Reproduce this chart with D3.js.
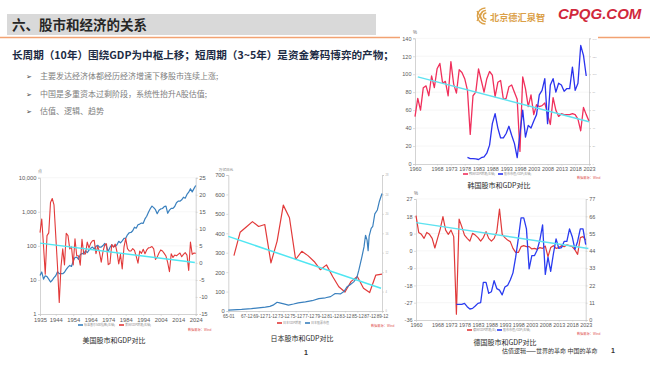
<!DOCTYPE html>
<html><head><meta charset="utf-8">
<script src="https://cdn.jsdelivr.net/npm/d3@7"></script>
<style>
html,body{margin:0;padding:0;background:#fff;}
svg{display:block;}
</style></head><body>
<svg id="c" width="650" height="366"></svg>
<script>
// ---------------- DATA ----------------
// US: S&P 500 (left, log) and GDP growth % (right)
const usStartYear = 1935;
const usIndex = [13.43,17.18,10.55,13.21,12.49,10.58,8.69,9.77,11.67,13.28,17.36,15.30,15.30,15.20,16.76,20.41,23.77,26.57,24.81,35.98,45.48,46.67,39.99,55.21,59.89,58.11,71.55,63.10,75.02,84.75,92.43,80.33,96.47,103.86,92.06,92.15,102.09,118.05,97.55,68.56,90.19,107.46,95.10,96.11,107.94,135.76,122.55,140.64,164.93,167.24,211.28,242.17,247.08,277.72,353.40,330.22,417.09,435.71,466.45,459.27,615.93,740.74,970.43,1229.23,1469.25,1320.28,1148.08,879.82,1111.92,1211.92,1248.29,1418.30,1468.36,903.25,1115.10,1257.64,1257.60,1426.19,1848.36,2058.90,2043.94,2238.83,2673.61,2506.85,3230.78,3756.07,4766.18,3839.50,4769.83,5881.63];
const usGDP = [8.9,12.9,5.1,-3.3,8.0,8.8,17.7,18.9,17.0,8.0,-1.0,-11.6,-1.1,4.1,-0.6,8.7,8.0,4.1,4.7,-0.6,7.1,2.1,2.1,-0.7,6.9,2.6,2.6,6.1,4.4,5.8,6.5,6.6,2.7,4.9,3.1,0.2,3.3,5.3,5.6,-0.5,-0.2,5.4,4.6,5.5,3.2,-0.3,2.5,-1.8,4.6,7.2,4.2,3.5,3.5,4.2,3.7,1.9,-0.1,3.5,2.8,4.0,2.7,3.8,4.4,4.5,4.8,4.1,1.0,1.7,2.9,3.8,3.5,2.8,2.0,0.1,-2.6,2.7,1.6,2.3,2.1,2.5,2.9,1.8,2.5,3.0,2.3,-2.2,6.1,2.5,2.9,2.8];
const usTrend = [[1935, 5.8], [2023.5, 0.1]];
const usXTicks = [1935,1944,1954,1964,1974,1984,1994,2004,2014,2024];
const usLeftTicks = [1,10,100,1000,10000];
const usRightTicks = [-15,-10,-5,0,5,10,15,20,25];

// Japan: market value (left, 万亿日元), nominal GDP growth % (right)
const jpMktDates = ["1965-01","1967-03","1968-10","1969-12","1971-01","1971-10","1972-04","1972-12","1973-05","1974-03","1974-10","1975-08","1976-05","1977-07","1978-08","1979-09","1980-10","1981-08","1982-05","1983-03","1983-10","1984-04","1984-10","1985-05","1985-11","1986-03","1986-06","1986-09","1987-01","1987-04","1987-07","1987-09","1987-11","1988-03","1988-06","1988-10","1989-03","1989-07","1989-12"];
const jpMktValues = [5,8,12,16,20,24,30,45,42,35,30,36,42,47,53,64,68,74,90,88,100,125,135,150,172,210,245,280,330,390,365,310,385,425,435,500,520,565,605];
const jpGdpStartYear = 1965;
const jpGDP = [11.4,16.2,17.3,18.4,17.4,17.8,9.9,14.4,21.8,19.2,10.6,12.3,11.4,10.2,8.5,9.5,7.1,5.0,3.9,6.1,7.1,4.7,3.8,7.4,7.6];
const jpTrend = [["1965-01", 384], ["1989-10", 117]];
const jpXTickDates = ["1965-01","1967-12","1969-12","1971-12","1973-12","1975-12","1977-12","1979-12","1981-12","1983-12","1985-12","1987-12","1989-12"];
const jpXTickLabels = ["65-01","67-12","69-12","71-12","73-12","75-12","77-12","79-12","81-12","83-12","85-12","87-12","89-12"];
const jpLeftTicks = [0,100,200,300,400,500,600,700];
const jpRightTicks = [0,4,8,12,16,20,24,28];

// Korea: red (left %), blue (right)
const krStartYear = 1960;
const krRed = [52.7,73,60,85,87,76,98,85,106,112,90,92,76,114,89,79,105,102,95,82,33,76,80,106,93,80,95,103,99,75,91,93,72,73,86,88,80,72,14,97,84,64,77,55,66,64,65,68,55,44,74,60,53,56,55,55,55,56,55,50,37,63,55,48];
const krBlueStartYear = 1979;
const krBlue = [7.4,6,6,5.6,5,7,8,12,21,45,56,40,29,29,34,42,32,23,7,34,60,30,43,40,48,55,77,82,95,45,88,95,80,90,88,81,84,84,108,82,90,132,121,98];
const krTrend = [[1961, 97], [2023, 47]];
const krXTicks = [1960,1968,1973,1978,1983,1988,1993,1998,2003,2008,2013,2018,2023];
const krLeftTicks = [0,20,40,60,80,100,120,140];

// Germany: red (left %), blue (right)
const deStartYear = 1960;
const deRed = [18.3,9.6,8.6,6.5,9.6,8.6,6.5,1.5,6.5,11.4,17.8,10.8,8.6,10.8,7.4,-33,16.5,12.6,8.2,6.5,5.1,9.1,8.2,6.9,5.1,6.9,10.0,6.5,5.1,6.5,10.0,21.8,8.6,6.9,5.6,4.8,1.3,-0.8,-0.8,2.2,2.7,2.2,2.2,1.0,1.3,0.8,1.7,1.3,2.5,-3.0,1.7,2.7,1.3,1.7,2.7,2.2,3.1,2.7,2.2,0.5,-1.8,6.9,7.4,5.6];
const deBlueStartYear = 1975;
const deBlue = [10,10,10,10.6,8.5,7,7.4,8.9,10.6,11,24,24,17,18,25,20,19,16,21,22,25.5,30,40,52,65,65,58,32.5,41,41,44.6,51,60.5,29,40,31,42,51.6,45.6,46,50,50,58,53,45,50,58,58,48];
const deTrend = [[1960, 14.7], [2024, 1.2]];
const deLeftTicks = [-36,-27,-18,-9,0,9,18,27];
const deRightTicks = [0,11,22,33,44,55,66,77];

// ---------------- DRAW ----------------
const svg = d3.select("#c");
const CN = '"Noto Sans CJK SC","Noto Sans",sans-serif';
const NUM = '"Liberation Sans",Arial,sans-serif';
const parseM = d3.timeParse("%Y-%m");

function txt(x, y, s, o = {}) {
  const t = svg.append("text").attr("x", x).attr("y", y).text(s)
    .attr("font-family", o.ff || CN).attr("font-size", o.fs || 8)
    .attr("fill", o.fill || "#333").attr("text-anchor", o.anchor || "start");
  if (o.fw) t.attr("font-weight", o.fw);
  if (o.fst) t.attr("font-style", o.fst);
  return t;
}
function axis(scale, orient, pos, vals, fmt, fs, fill, tl, pad) {
  const a = (orient === "left" ? d3.axisLeft(scale) : orient === "right" ? d3.axisRight(scale) : d3.axisBottom(scale))
    .tickValues(vals).tickFormat(fmt).tickSize(tl).tickPadding(pad);
  const g = svg.append("g").attr("transform", orient === "bottom" ? `translate(0,${pos})` : `translate(${pos},0)`).call(a);
  g.select(".domain").attr("stroke", "#c8c8c8").attr("stroke-width", 0.8);
  g.selectAll(".tick line").attr("stroke", "#c8c8c8").attr("stroke-width", 0.6);
  g.selectAll("text").attr("font-family", NUM).attr("font-size", fs).attr("fill", fill);
  return g;
}
function grid(scale, vals, x0, x1) {
  svg.append("g").selectAll("line").data(vals).join("line")
    .attr("x1", x0).attr("x2", x1).attr("y1", d => scale(d)).attr("y2", d => scale(d))
    .attr("stroke", "#f0f0f0").attr("stroke-width", 0.6);
}
function path(data, xf, yf, color, w) {
  svg.append("path").datum(data).attr("fill", "none").attr("stroke", color)
    .attr("stroke-width", w).attr("stroke-linejoin", "round")
    .attr("d", d3.line().x(xf).y(yf));
}
function legend(items, y) {
  items.forEach(it => {
    svg.append("rect").attr("x", it.x).attr("y", y - 0.8).attr("width", 5).attr("height", 1.6).attr("fill", it.color);
    txt(it.x + 6, y + 1.1, it.text, { fs: 3, fill: "#8c8c8c" });
  });
}

// Header
svg.append("rect").attr("x", 7).attr("y", 14).attr("width", 369).attr("height", 21).attr("fill", "#d9d9d9");
txt(12, 30, "六、股市和经济的关系", { fs: 13.5, fw: "bold", fill: "#262626" });
svg.append("line").attr("x1", 0).attr("x2", 400).attr("y1", 37.5).attr("y2", 37.5).attr("stroke", "#f2a272").attr("stroke-width", 1.5);
svg.append("line").attr("x1", 598).attr("x2", 650).attr("y1", 37.5).attr("y2", 37.5).attr("stroke", "#f2a272").attr("stroke-width", 1.5);

// Logo
const lg = svg.append("g").attr("fill", "none").attr("stroke", "#dca24a").attr("stroke-width", 1.4);
[3, 5.5, 8].forEach(r => lg.append("path").attr("d", `M${487 - r * 0.2},${16 - r} A${r},${r} 0 0,0 ${487 - r * 0.2},${16 + r}`));
lg.append("path").attr("d", "M477,11 L483,21 M483,11 L477,21");
txt(490, 20.5, "北京德汇泉智", { fs: 9.2, fw: "bold", fill: "#dba048" });
txt(558, 19, "CPQG.COM", { ff: NUM, fs: 15, fw: "bold", fst: "italic", fill: "#d1283c" });

// Subtitle + bullets
txt(12, 59, "长周期（10年）围绕GDP为中枢上移；短周期（3~5年）是资金筹码博弈的产物；", { fs: 10.6, fw: "bold", fill: "#1d2b44" });
const bullets = ["主要发达经济体都经历经济增速下移股市连续上涨;", "中国是多重资本过剩阶段，系统性抬升A股估值;", "估值、逻辑、趋势"];
bullets.forEach((b, i) => {
  const y = [79, 97, 114][i];
  txt(26, y, "➢", { ff: '"DejaVu Sans",sans-serif', fs: 7, fill: "#444" });
  txt(40, y, b, { fs: 8, fill: "#808080" });
});

// ---------- US chart ----------
{
  const x = d3.scaleLinear([1935, 2024], [40, 195.7]);
  const yL = d3.scaleLog([1, 10000], [314, 177.7]);
  const yR = d3.scaleLinear([-15, 25], [314, 177.7]);
  grid(yL, usLeftTicks.slice(1), 40, 195.7);
  axis(yL, "left", 40, usLeftTicks, d3.format(","), 5.8, "#595959", 2, 1.5);
  axis(yR, "right", 195.7, usRightTicks, d => d, 5.8, "#595959", 2, 1.5);
  axis(x, "bottom", 314, usXTicks, d => d, 5.8, "#595959", 2, 1.5);
  txt(40, 173, "点", { fs: 4, fill: "#777", anchor: "middle" });
  const idx = usIndex.map((v, i) => [usStartYear + i, v]);
  const gdp = usGDP.map((v, i) => [usStartYear + i, v]);
  path(idx, d => x(d[0]), d => yL(d[1]), "#3a80be", 1.2);
  path(gdp, d => x(d[0]), d => yR(d[1]), "#e23a3a", 1.1);
  path(usTrend, d => x(d[0]), d => yR(d[1]), "#4fe6f2", 1.5);
  legend([{ x: 78, color: "#3a80be", text: "标准普尔500指数(左轴)" }, { x: 119, color: "#e23a3a", text: "美国GDP增速(右轴)" }], 325);
  txt(188, 331, "数据来源：Wind", { fs: 3.2, fill: "#e05050" });
  txt(114, 343, "美国股市和GDP对比", { fs: 7, fill: "#2b2b2b", anchor: "middle" });
}

// ---------- Japan chart ----------
{
  const x = d3.scaleTime([parseM("1965-01"), parseM("1989-12")], [228.3, 382]);
  const yL = d3.scaleLinear([0, 700], [311, 175]);
  const yR = d3.scaleLinear([0, 28], [311, 175]);
  axis(yL, "left", 228.3, jpLeftTicks, d => d, 5.8, "#595959", 2, 1.5);
  axis(yR, "right", 382, jpRightTicks, d => d, 2.6, "#aaaaaa", 2, 1.5);
  const tickDates = jpXTickDates.map(parseM);
  axis(x, "bottom", 311, tickDates, (d, i) => jpXTickLabels[i], 4.6, "#595959", 1.5, 2.2);
  txt(226, 170.5, "万亿日元", { fs: 3.6, fill: "#777", anchor: "middle" });
  const mkt = jpMktDates.map((d, i) => [parseM(d), jpMktValues[i]]);
  const gdp = jpGDP.map((v, i) => [new Date(jpGdpStartYear + i, 11, 1), v]);
  path(gdp, d => x(d[0]), d => yR(d[1]), "#e23a3a", 1.2);
  path(mkt, d => x(d[0]), d => yL(d[1]), "#3a80be", 1.2);
  path(jpTrend, d => x(parseM(d[0])), d => yL(d[1]), "#4fe6f2", 1.5);
  legend([{ x: 277, color: "#e23a3a", text: "日本GDP增速" }, { x: 305, color: "#3a80be", text: "日本股票市值" }], 323);
  txt(371, 327, "数据来源：Wind", { fs: 3.2, fill: "#e05050" });
  txt(302, 341, "日本股市和GDP对比", { fs: 7, fill: "#2b2b2b", anchor: "middle" });
  txt(306, 355, "1", { ff: NUM, fs: 7, fw: "bold", fill: "#333", anchor: "middle" });
}

// ---------- Korea chart ----------
{
  const x = d3.scaleLinear([1960, 2023], [415, 589]);
  const yL = d3.scaleLinear([0, 140], [164, 38.3]);
  const yR = d3.scaleLinear([0, 140], [164, 38.3]);
  grid(yL, krLeftTicks.slice(1), 415, 589);
  axis(yL, "left", 415, krLeftTicks, d => d, 5.5, "#595959", 2, 1.5);
  axis(yR, "right", 589, krLeftTicks, d => d, 2.4, "#aaaaaa", 2, 1.5);
  axis(x, "bottom", 164, krXTicks, d => d, 5.4, "#595959", 1.5, 1.5);
  txt(415, 34, "%", { ff: NUM, fs: 4.5, fill: "#666", anchor: "middle" });
  const red = krRed.map((v, i) => [krStartYear + i, v]);
  const blue = krBlue.map((v, i) => [krBlueStartYear + i, v]);
  path(red, d => x(d[0]), d => yL(d[1]), "#f0305c", 1.3);
  path(blue, d => x(d[0]), d => yR(d[1]), "#2a33ee", 1.3);
  path(krTrend, d => x(d[0]), d => yL(d[1]), "#5ee2f0", 1.4);
  legend([{ x: 463, color: "#f0305c", text: "韩国GDP增速(左轴)" }, { x: 498, color: "#2a33ee", text: "股市市值/GDP(右轴)" }], 174);
  txt(577, 178.5, "数据来源：Wind", { fs: 3.2, fill: "#e05050" });
  txt(499, 188, "韩国股市和GDP对比", { fs: 7, fill: "#2b2b2b", anchor: "middle" });
}

// ---------- Germany chart ----------
{
  const x = d3.scaleLinear([1960, 2023], [416, 585.7]);
  const yL = d3.scaleLinear([-36, 27], [320, 199]);
  const yR = d3.scaleLinear([0, 77], [320, 199]);
  grid(yL, deLeftTicks.slice(1), 416, 585.7);
  axis(yL, "left", 416, deLeftTicks, d => d, 5.5, "#595959", 2, 1.5);
  axis(yR, "right", 585.7, deRightTicks, d => d, 5.5, "#595959", 2, 1.5);
  axis(x, "bottom", 320, krXTicks, d => d, 5.4, "#595959", 1.5, 1.5);
  txt(416, 194.5, "%", { ff: NUM, fs: 4.5, fill: "#666", anchor: "middle" });
  const red = deRed.map((v, i) => [deStartYear + i, v]);
  const blue = deBlue.map((v, i) => [deBlueStartYear + i, v]);
  path(red, d => x(d[0]), d => yL(d[1]), "#e03a3a", 1.2);
  path(blue, d => x(d[0]), d => yR(d[1]), "#2a3cf0", 1.3);
  path(deTrend, d => x(d[0]), d => yL(d[1]), "#5ee2f0", 1.4);
  legend([{ x: 467, color: "#e03a3a", text: "德国GDP增速(左)" }, { x: 497, color: "#2a3cf0", text: "股市市值/GDP(右轴)" }], 330);
  txt(577, 335, "数据来源：Wind", { fs: 3.2, fill: "#e05050" });
  txt(505, 345, "德国股市和GDP对比", { fs: 7, fill: "#2b2b2b", anchor: "middle" });
  txt(502, 353, "估值逻辑——世界的革命 中国的革命", { fs: 6, fill: "#333" });
  txt(611, 353, "1", { ff: NUM, fs: 7, fw: "bold", fill: "#333" });
}
</script>
</body></html>
